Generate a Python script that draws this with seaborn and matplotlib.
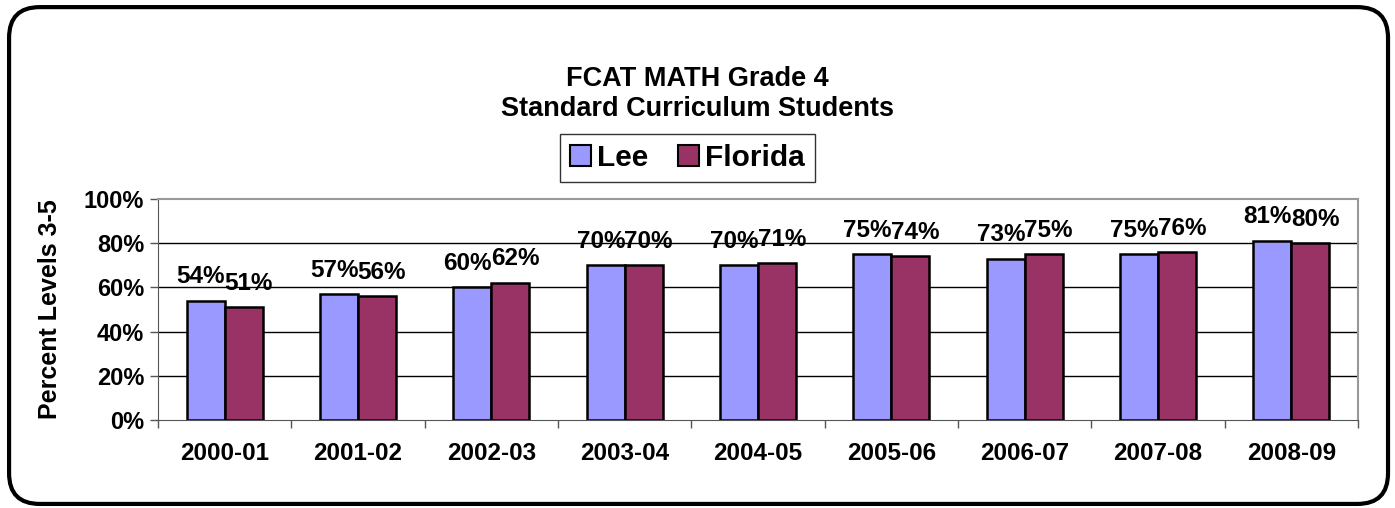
import pandas as pd
import seaborn as sns
import matplotlib.pyplot as plt
from matplotlib.patches import FancyBboxPatch
from matplotlib.ticker import PercentFormatter

years = ["2000-01", "2001-02", "2002-03", "2003-04", "2004-05",
         "2005-06", "2006-07", "2007-08", "2008-09"]
lee = [54, 57, 60, 70, 70, 75, 73, 75, 81]
florida = [51, 56, 62, 70, 71, 74, 75, 76, 80]

df = pd.DataFrame({
    "Year": years * 2,
    "Pct": lee + florida,
    "Group": ["Lee"] * len(years) + ["Florida"] * len(years),
})

sns.set_style("white")
plt.rcParams['font.family'] = ['Liberation Sans', 'DejaVu Sans']
plt.rcParams['font.weight'] = 'bold'
plt.rcParams['text.color'] = 'black'
plt.rcParams['axes.labelcolor'] = 'black'
plt.rcParams['xtick.color'] = 'black'
plt.rcParams['ytick.color'] = 'black'

fig = plt.figure(figsize=(13.95, 5.08), dpi=100)
# rounded outer frame
frame = FancyBboxPatch((0.0065, 0.008), 0.9885, 0.978, boxstyle="round,pad=0,rounding_size=0.022",
                       transform=fig.transFigure, fill=False, edgecolor="black", linewidth=3,
                       mutation_aspect=1395 / 508)
fig.patches.append(frame)

ax = fig.add_axes([0.1133, 0.1732, 0.8602, 0.4351])
sns.barplot(data=df, x="Year", y="Pct", hue="Group", palette={"Lee": "#9999FF", "Florida": "#993366"},
            width=0.57, edgecolor="black", linewidth=1.8, saturation=1, ax=ax, legend=False)

ax.set_ylim(0, 100)
ax.set_xlim(-0.5, len(years) - 0.5)
ax.set_yticks(range(0, 101, 20))
ax.yaxis.set_major_formatter(PercentFormatter(decimals=0))
for y in range(20, 100, 20):
    ax.axhline(y, color="black", linewidth=1, zorder=0)

for side in ["top", "right"]:
    ax.spines[side].set_color("#999999")
    ax.spines[side].set_linewidth(1.5)
ax.spines["left"].set_color("#555555")
ax.spines["bottom"].set_color("#555555")

ax.tick_params(axis="y", labelsize=17, left=True, length=6, width=1, color="#555555", pad=4)
ax.tick_params(axis="x", labelsize=17.5, bottom=False, pad=12)
ax.set_xticks([i + 0.5 for i in range(-1, len(years))], minor=True)
ax.tick_params(axis="x", which="minor", bottom=True, length=6, width=1, color="#555555")
for lbl in ax.get_xticklabels() + ax.get_yticklabels():
    lbl.set_fontweight("bold")

ax.set_xlabel("")
ax.set_ylabel("Percent Levels 3-5", fontsize=18, fontweight="bold", labelpad=16)

# data labels, nudged apart a little like the original
for container, dx in zip(ax.containers, [-3.5, 3.5]):
    anns = ax.bar_label(container, labels=[f"{v:.0f}%" for v in container.datavalues],
                        fontsize=17.5, fontweight="bold", padding=9)
    for a in anns:
        a.xyann = (dx, 9)

fig.text(0.5, 0.815, "FCAT MATH Grade 4\nStandard Curriculum Students", ha="center", va="center",
         fontsize=19.5, fontweight="bold", linespacing=1.2)

handles = [plt.Rectangle((0, 0), 1, 1, facecolor="#9999FF", edgecolor="black", linewidth=1.5),
           plt.Rectangle((0, 0), 1, 1, facecolor="#993366", edgecolor="black", linewidth=1.5)]
fig.legend(handles, ["Lee", "Florida"], loc="center", bbox_to_anchor=(0.493, 0.689), ncol=2,
           frameon=True, fancybox=False, edgecolor="black", handlelength=0.7,
           handleheight=0.7, handletextpad=0.2, columnspacing=1.0, borderpad=0.35,
           prop={"weight": "bold", "size": 21.5})

fig.savefig("out.png", dpi=100)
